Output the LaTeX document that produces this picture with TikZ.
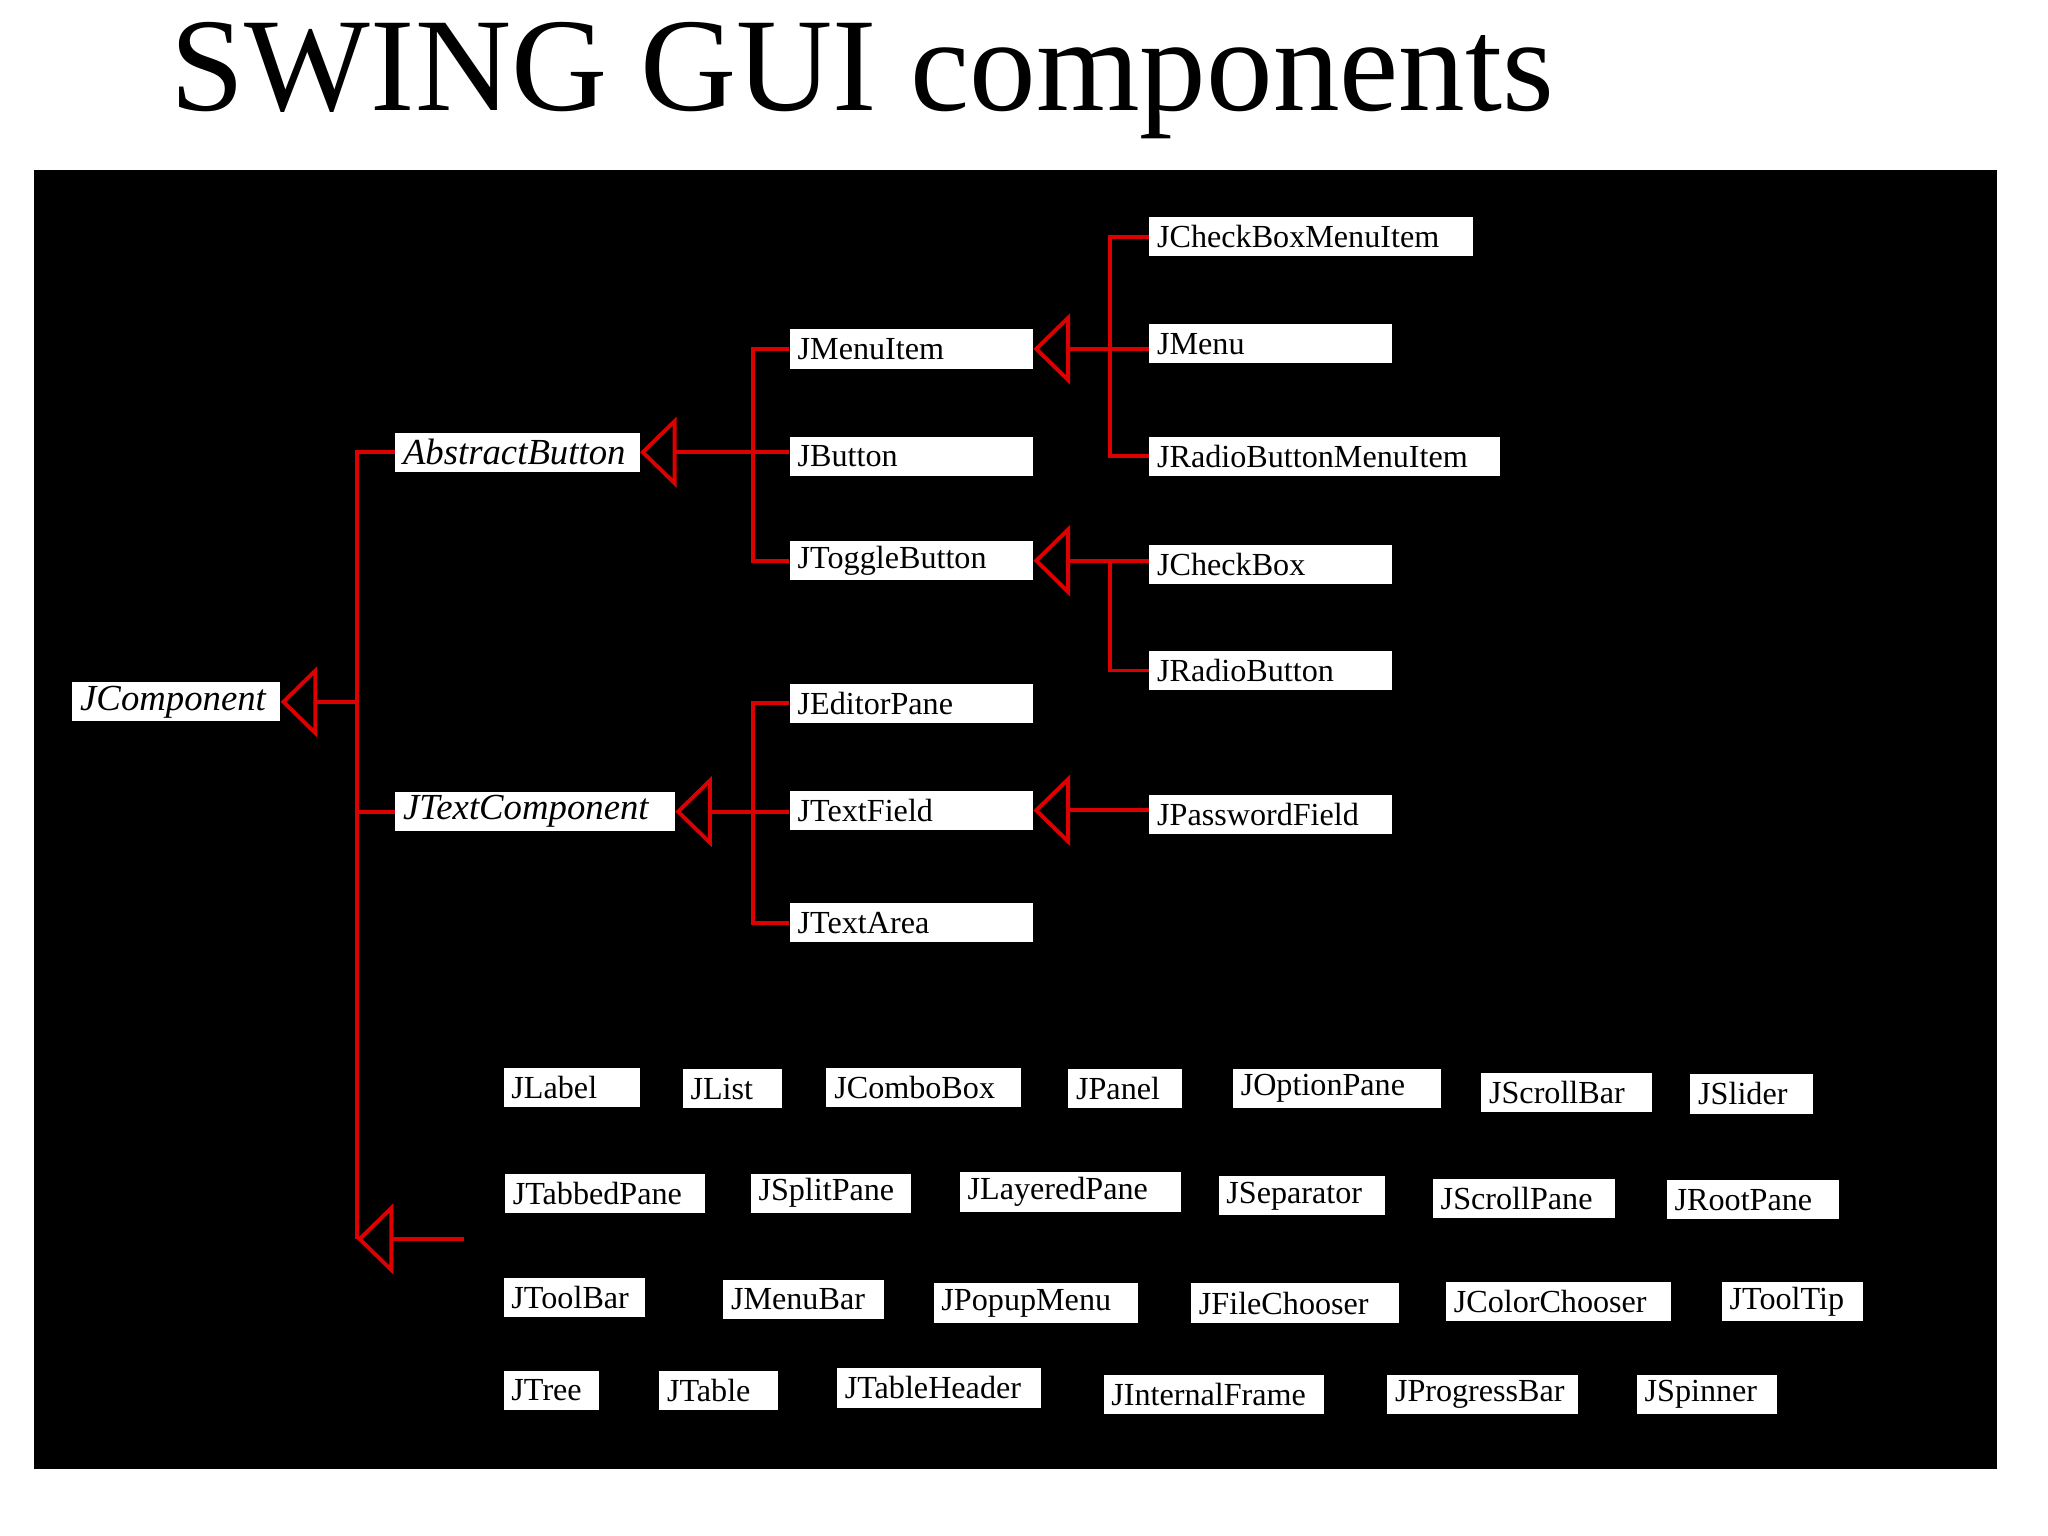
\documentclass[tikz,border=0pt]{standalone}
\usepackage{fontspec}
\setmainfont{Liberation Serif}
\usetikzlibrary{arrows.meta,positioning}
\definecolor{umlred}{RGB}{220,0,0}
\tikzset{
  box/.style={fill=white, anchor=west, inner xsep=0.12cm, inner ysep=0pt, minimum height=0.6cm, align=left, font=\fontsize{14}{16}\selectfont},
  abox/.style={box, font=\fontsize{16}{18}\selectfont\itshape},
  inh/.style={draw=umlred, line width=1.7pt, -{Triangle[open, length=0.56cm, width=1.08cm]}},
  link/.style={draw=umlred, line width=1.7pt}
}
\newcommand{\cbox}[5][box]{%
  \pgfmathsetmacro\bw{(#4-#3)*0.02-0.24}
  \node[#1, text width=\bw cm] (#2) at (#3,#5) {#2};}
\begin{document}
\begin{tikzpicture}[x=0.02cm, y=-0.02cm]
\useasboundingbox (0,0) rectangle (1567,1175);
\fill (26,130) rectangle (1528,1124);
\node (title) at (660,62) {\fontsize{58}{66}\selectfont SWING GUI components};

% hierarchy
\cbox[abox]{JComponent}{55}{214}{537}
\cbox[abox]{AbstractButton}{302}{489}{346}
\cbox[abox]{JTextComponent}{302}{516}{621}
\foreach \nm/\y in {JMenuItem/267, JButton/349, JToggleButton/429, JEditorPane/538, JTextField/620, JTextArea/706}{
  \cbox{\nm}{604}{790}{\y}
}
\foreach \nm/\r/\y in {JCheckBoxMenuItem/1127/181, JMenu/1065/263, JRadioButtonMenuItem/1147/349, JCheckBox/1065/432, JRadioButton/1065/513, JPasswordField/1065/623}{
  \cbox{\nm}{879}{\r}{\y}
}

% connectors
\coordinate (cj) at (273,537);
\coordinate (cbot) at (273,948);
\coordinate (grp) at (355,948);
\draw[inh] (cj) -- (JComponent.east);
\draw[link] (AbstractButton.west) -| (cbot);
\draw[link] (JTextComponent.west) -- (JTextComponent.west -| cj);
\draw[inh] (grp) -- (cbot);

\coordinate (abj) at (576,346);
\draw[inh] (abj) -- (AbstractButton.east);
\draw[link] (JMenuItem.west) -| (576,429) -- (JToggleButton.west);
\draw[link] (abj) -- (abj -| JButton.west);

\coordinate (tcj) at (576,621);
\draw[inh] (tcj) -- (JTextComponent.east);
\draw[link] (JEditorPane.west) -| (576,706) -- (JTextArea.west);
\draw[link] (tcj) -- (tcj -| JTextField.west);

\coordinate (mij) at (849,267);
\draw[inh] (mij) -- (JMenuItem.east);
\draw[link] (JCheckBoxMenuItem.west) -| (849,349) -- (JRadioButtonMenuItem.west);
\draw[link] (mij) -- (mij -| JMenu.west);

\coordinate (tbj) at (849,429);
\draw[inh] (tbj) -- (JToggleButton.east);
\draw[link] (tbj) -- (tbj -| JCheckBox.west);
\draw[link] (tbj) |- (JRadioButton.west);

\draw[inh] (JPasswordField.west |- JTextField.east) -- (JTextField.east);

% leaf classes
\foreach \nm/\l/\r/\y in {
  JLabel/385/489/832, JList/522/598/833, JComboBox/632/781/832, JPanel/817/904/833,
  JOptionPane/943/1102/833, JScrollBar/1133/1264/836, JSlider/1293/1387/837,
  JTabbedPane/386/539/913, JSplitPane/574/697/913, JLayeredPane/734/903/912,
  JSeparator/932/1059/915, JScrollPane/1096/1235/917, JRootPane/1275/1407/918,
  JToolBar/385/493/993, JMenuBar/553/676/994, JPopupMenu/714/870/997,
  JFileChooser/911/1070/997, JColorChooser/1106/1278/996, JToolTip/1317/1425/996,
  JTree/385/458/1064, JTable/504/595/1064, JTableHeader/640/796/1062,
  JInternalFrame/844/1013/1067, JProgressBar/1061/1207/1067, JSpinner/1252/1359/1067}{
  \cbox{\nm}{\l}{\r}{\y}
}
\end{tikzpicture}
\end{document}
